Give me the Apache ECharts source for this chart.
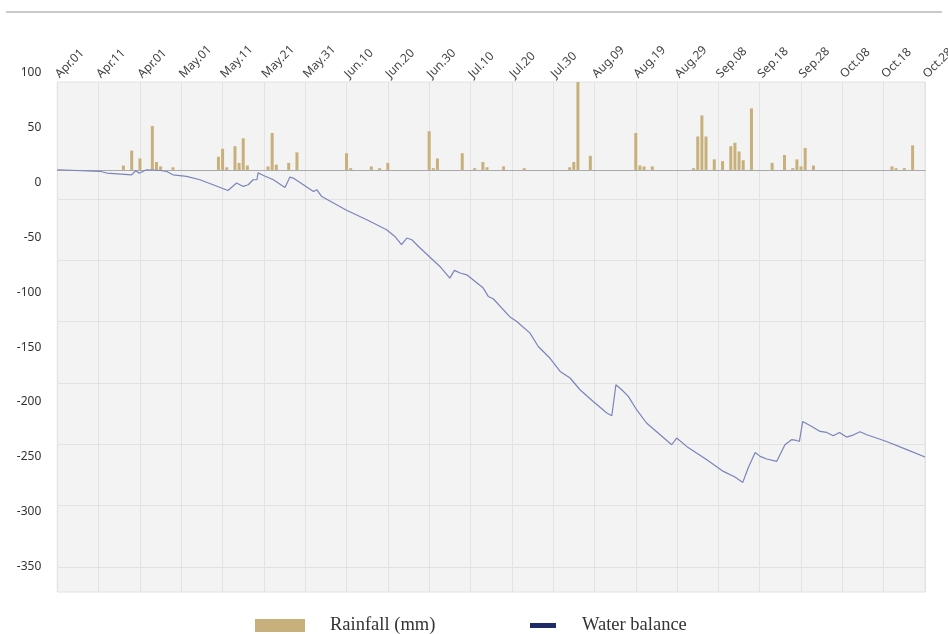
<!DOCTYPE html>
<html>
<head>
<meta charset="utf-8">
<title>Rainfall and water balance</title>
<script src="https://cdn.jsdelivr.net/npm/echarts@6/dist/echarts.min.js"></script>
<style>
  html, body { margin: 0; background: #fff; }
  #chart { width: 948px; height: 634px; }
</style>
</head>
<body>
<div id="chart"></div>
<script>
// tick labels every 10 days (the third one reads "Apr.01" in the source chart)
const tickLabels = [
  "Apr.01", "Apr.11", "Apr.01", "May.01", "May.11", "May.21", "May.31",
  "Jun.10", "Jun.20", "Jun.30", "Jul.10", "Jul.20", "Jul.30", "Aug.09",
  "Aug.19", "Aug.29", "Sep.08", "Sep.18", "Sep.28", "Oct.08", "Oct.18", "Oct.28",
];
const dayCount = 211;
const days = Array.from({ length: dayCount }, (_, i) => String(i));

// daily rainfall (mm), day index from Apr 01
const rainDays = [
  16, 18, 20, 23, 24, 25, 28,
  39, 40, 41, 43, 44, 45, 46, 51, 52, 53, 56, 58,
  70, 71, 76, 78, 80, 90, 91, 92, 98, 101, 103, 104,
  108, 113, 124, 125, 126, 129,
  140, 141, 142, 144,
  154, 155, 156, 157, 159, 161, 163, 164, 165, 166, 168,
  173, 176, 178, 179, 180, 181, 183,
  202, 203, 205, 207,
];
const rainValues = [
  5, 22, 13, 50, 9, 4, 3,
  15, 24, 3, 27, 8, 36, 5, 4, 42, 6, 8, 20,
  19, 2, 4, 2, 8, 44, 2, 13, 19, 2, 9, 3,
  4, 2, 3, 9, 100, 16,
  42, 5, 4, 4,
  2, 38, 62, 38, 12, 10, 27, 31, 21, 11, 70,
  8, 17, 2, 12, 4, 25, 5,
  4, 2, 2, 28,
];

// water balance vertices (day index, value)
const balanceDays = [
  0, 10.3, 12, 18, 19, 19.8, 21.6, 24.9, 26.5, 28, 31.3, 34.5, 37.7, 41.3,
  43.4, 45, 46.2, 47.4, 48.3, 48.6, 49.9, 52.3, 55.1, 56.3, 57.1, 62, 62.8,
  64, 70, 74.9, 79.7, 81.7, 83.3, 84.6, 85.8, 87.8, 92.6, 95, 96.1, 97.5,
  99.1, 103.1, 104.3, 105.5, 109.6, 111.2, 114.4, 116.4, 119.2, 121.7, 124.1,
  126.5, 129.7, 133, 134.2, 135.2, 136.6, 138.2, 140.2, 142.6, 145.9, 148.7,
  149.9, 152.3, 157.2, 161.2, 164, 165.9, 167.2, 168.9, 170.1, 171.7, 174.1,
  174.9, 176.1, 177.7, 178.9, 179.6, 180.4, 182.6, 184.6, 186.2, 187.8,
  189.3, 191, 192.6, 194.3, 195.9, 200.7, 205.6, 210,
];
const balanceValues = [
  11.6, 10.2, 8.6, 7, 10.9, 8.4, 11.6, 10.9, 10, 7, 5.5, 2.5, -2.1, -7.3,
  -0.5, -3.6, -2.1, 2.5, 2.5, 8.8, 6.4, 2.5, -4.6, 4.9, 4, -8.2, -6.6,
  -12.8, -25.3, -34, -43.1, -49.2, -56.7, -50.6, -52.2, -59.7, -76.5, -87.1, -80.1, -82.5,
  -84.1, -96.2, -103.8, -105.9, -122.6, -126.6, -137.2, -149.4, -159.9, -172.1, -178.1,
  -188.8, -199.5, -210, -212.5, -184.2, -188.8, -194.9, -207, -219.1, -229.8, -238.9,
  -232.8, -240.4, -252.6, -263.2, -268.3, -273.2, -260.1, -245.9, -249.5, -251.9, -254.1,
  -248, -238.9, -234.3, -235, -235.9, -217.7, -222.2, -226.8, -227.7, -230.7,
  -227.7, -231.9, -230.1, -227, -229.8, -235.9, -243.4, -250.1,
];

const rainData = rainDays.map((d, i) => [d, rainValues[i]]);
const balanceData = balanceDays.map((d, i) => [d, balanceValues[i]]);

const gridColor = "#e2e2e2";
const sans = "'Noto Sans', sans-serif";
const serif = "'Liberation Serif', serif";

const chart = echarts.init(document.getElementById("chart"));

chart.setOption({
  animation: false,
  backgroundColor: "#fff",
  graphic: [
    {
      type: "line",
      shape: { x1: 6, y1: 12, x2: 942, y2: 12 },
      style: { stroke: "#b9b9b9", lineWidth: 1.5 },
    },
  ],
  legend: [
    {
      data: ["Rainfall (mm)"],
      left: 255,
      top: 616,
      padding: 0,
      icon: "rect",
      itemWidth: 50,
      itemHeight: 13,
      textStyle: { fontFamily: serif, fontSize: 18.5, color: "#333", padding: [0, 0, 0, 20] },
    },
    {
      data: [{ name: "Water balance", itemStyle: { color: "#1f2b68" } }],
      left: 530,
      top: 616,
      padding: 0,
      icon: "rect",
      itemWidth: 26,
      itemHeight: 5,
      textStyle: { fontFamily: serif, fontSize: 18.5, color: "#333", padding: [0, 0, 0, 21] },
    },
  ],
  grid: [
    // line grid (carries the visible y labels)
    { left: 57.3, right: 23, top: 72.7, bottom: 67.3, outerBoundsMode: "none" },
    // rainfall grid with the grey plot background
    {
      left: 57.3, right: 23, top: 82, bottom: 42, outerBoundsMode: "none",
      show: true, backgroundColor: "#f3f3f3", borderColor: gridColor, borderWidth: 1,
    },
    // horizontal grid lines only
    { left: 57.3, right: 23, top: 199, bottom: 67, outerBoundsMode: "none" },
  ],
  xAxis: [
    { type: "value", gridIndex: 0, min: 0, max: dayCount - 1, show: false },
    {
      type: "category",
      gridIndex: 1,
      data: days,
      position: "top",
      boundaryGap: false,
      axisLine: { show: false, onZero: false },
      axisTick: { show: false },
      axisLabel: {
        interval: 9,
        rotate: -45,
        margin: 6,
        color: "#444",
        fontFamily: sans,
        fontSize: 12,
        formatter: (value, index) => tickLabels[index / 10] || "",
      },
      splitLine: { show: true, interval: 9, lineStyle: { color: gridColor } },
    },
    {
      type: "category",
      gridIndex: 1,
      data: days,
      position: "bottom",
      boundaryGap: false,
      axisLine: { show: true, onZero: true, lineStyle: { color: "#a9a9a9", width: 1 } },
      axisTick: { show: false },
      axisLabel: { show: false },
    },
    { type: "value", gridIndex: 2, min: 0, max: 1, show: false },
  ],
  yAxis: [
    {
      type: "value",
      gridIndex: 0,
      min: -350,
      max: 100,
      interval: 50,
      axisLine: { show: false },
      axisTick: { show: false },
      splitLine: { show: false },
      axisLabel: { color: "#333", fontFamily: sans, fontSize: 12, margin: 16 },
    },
    { type: "value", gridIndex: 1, min: -480, max: 100, show: false, splitLine: { show: false } },
    {
      type: "value",
      gridIndex: 2,
      min: 0,
      max: 6,
      interval: 1,
      axisLine: { show: false },
      axisTick: { show: false },
      axisLabel: { show: false },
      splitLine: { show: true, lineStyle: { color: gridColor } },
    },
  ],
  series: [
    {
      name: "Rainfall (mm)",
      type: "bar",
      xAxisIndex: 2,
      yAxisIndex: 1,
      barWidth: 3,
      itemStyle: { color: "#c8b07c" },
      data: rainData,
    },
    {
      name: "Water balance",
      type: "line",
      xAxisIndex: 0,
      yAxisIndex: 0,
      showSymbol: false,
      lineStyle: { color: "#7a84bb", width: 1.2 },
      itemStyle: { color: "#7a84bb" },
      z: 5,
      data: balanceData,
    },
  ],
});
</script>
</body>
</html>
